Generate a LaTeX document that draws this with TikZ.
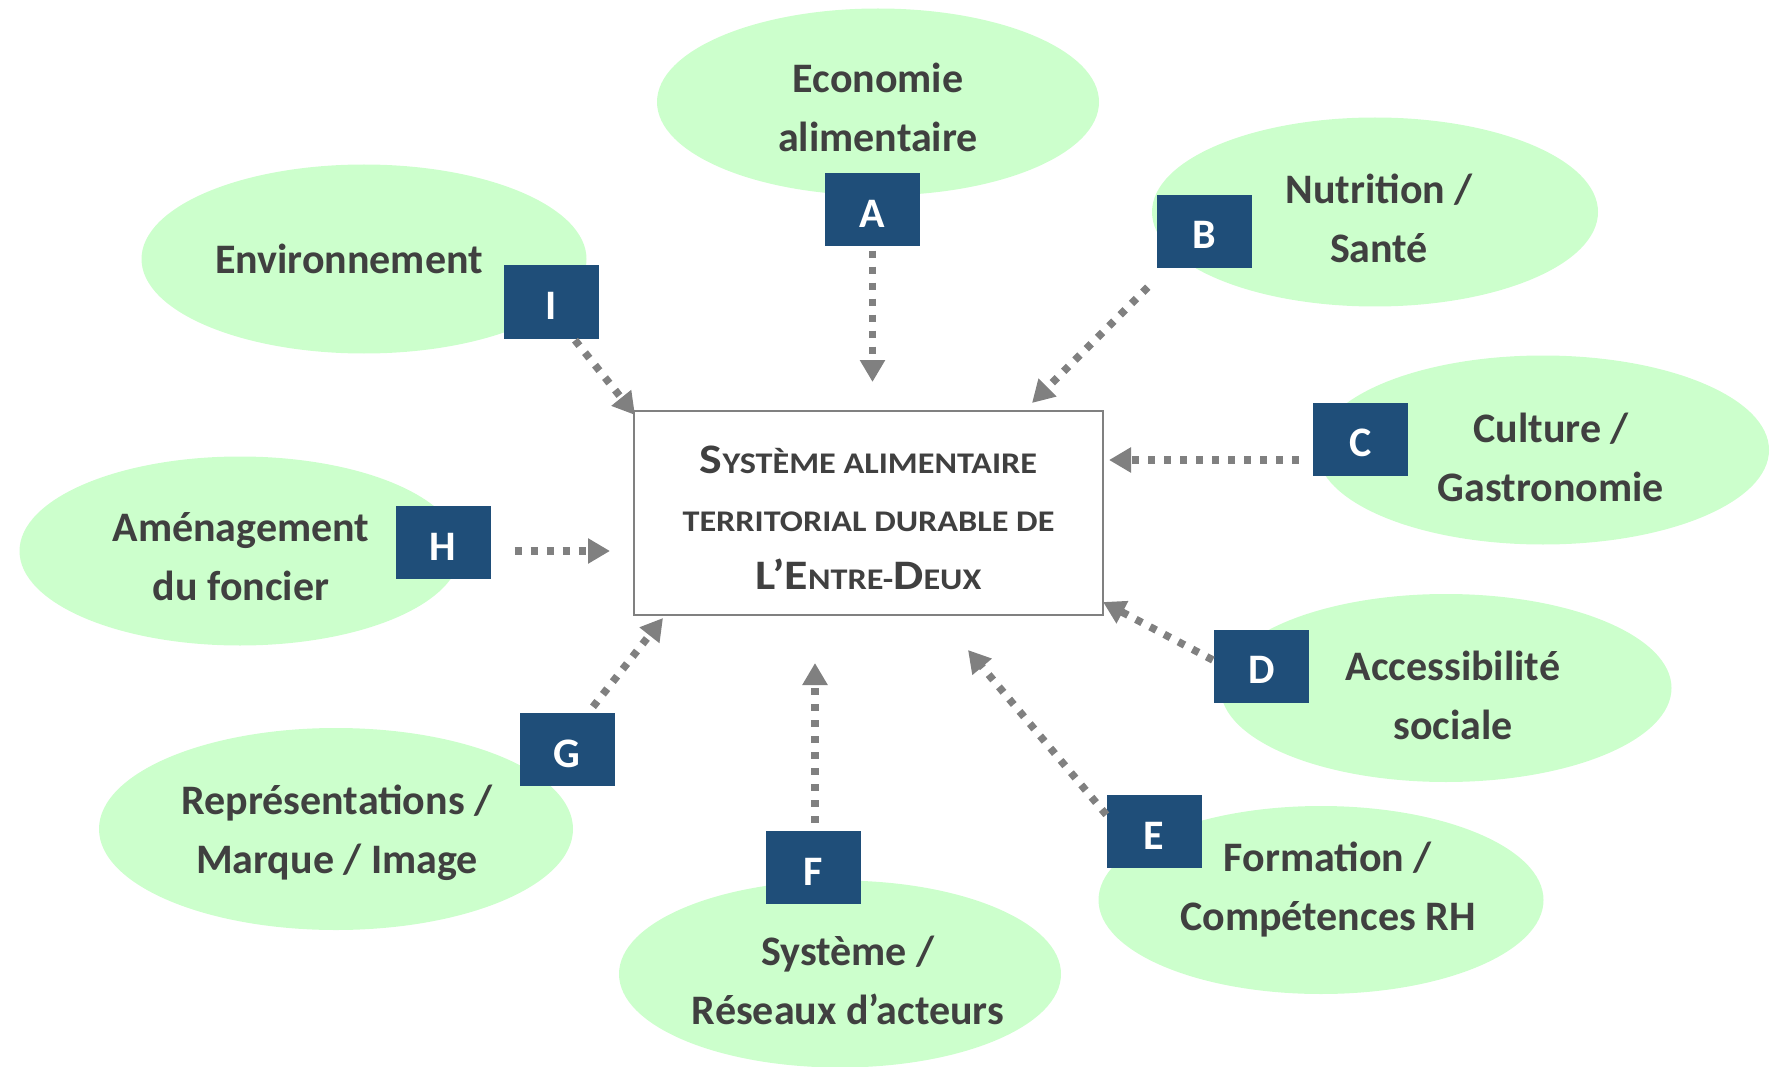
\documentclass[tikz,border=0pt]{standalone}
\usepackage{fontspec}
\setmainfont{Carlito}
\newfontfamily\scfont[FakeStretch=1.14]{Carlito}
\usetikzlibrary{arrows.meta,shapes.geometric}
\definecolor{ellfill}{HTML}{CCFFCC}
\definecolor{lblfill}{HTML}{1F4E79}
\definecolor{txt}{HTML}{404040}
\definecolor{arrgray}{HTML}{808080}
\newcommand{\mycapbig}[1]{{\fontsize{42}{58}\selectfont #1}}
\begin{document}
\begin{tikzpicture}[x=1pt,y=-1pt,
 ell/.style={ellipse, fill=ellfill, inner sep=0pt},
 etext/.style={inner sep=0pt, text=txt, font=\bfseries\fontsize{42}{59}\selectfont, align=center},
 lbl/.style={fill=lblfill, minimum width=95pt, minimum height=73pt, inner sep=0pt, text height=35pt, text depth=0pt, text=white, font=\bfseries\fontsize{42}{48}\selectfont},
 cbox/.style={draw=arrgray, line width=2pt, fill=white, minimum width=469pt, minimum height=204pt, inner sep=0pt},
 ctext/.style={inner sep=0pt, text=txt, align=center, font=\scfont\bfseries\fontsize{30}{58}\selectfont},
 arr/.style={draw=arrgray, line width=7.5pt, dash pattern=on 7pt off 9pt, -{Triangle[width=24pt,length=22pt]}}]
\useasboundingbox (0,0) rectangle (1780,1067);
% ellipses
\node[ell, minimum width=442pt, minimum height=187pt] (eA) at (878,102) {};
\node[ell, minimum width=446pt, minimum height=189pt] (eB) at (1375,212) {};
\node[ell, minimum width=452pt, minimum height=189pt] (eC) at (1543,450) {};
\node[ell, minimum width=451pt, minimum height=188pt] (eD) at (1446,688) {};
\node[ell, minimum width=445pt, minimum height=188pt] (eE) at (1321,900) {};
\node[ell, minimum width=442pt, minimum height=187pt] (eF) at (840,974) {};
\node[ell, minimum width=474pt, minimum height=202pt] (eG) at (336,829) {};
\node[ell, minimum width=441pt, minimum height=189pt] (eH) at (240,551) {};
\node[ell, minimum width=445pt, minimum height=189pt] (eI) at (364,259) {};
% ellipse texts
\node[etext] (xA) at (878,107) {Economie\\alimentaire};
\node[etext] (xB) at (1379,218) {Nutrition /\\Santé};
\node[etext] (xC) at (1551,457) {Culture /\\Gastronomie};
\node[etext] (xD) at (1453,695) {Accessibilité\\sociale};
\node[etext] (xE) at (1328,890) {Formation /\\Compétences RH};
\node[etext] (xF) at (848,980) {Système /\\Réseaux d’acteurs};
\node[etext] (xG) at (337,833) {Représentations /\\Marque / Image};
\node[etext] (xH) at (241,557) {Aménagement\\du foncier};
\node[etext] (xI) at (349,259) {Environnement};
% labels
\node[lbl] (lA) at (872.5,210) {A};
\node[lbl] (lB) at (1204.5,231.5) {B};
\node[lbl] (lC) at (1360.5,439) {C};
\node[lbl] (lD) at (1261.5,666) {D};
\node[lbl] (lE) at (1154,831.5) {E};
\node[lbl] (lF) at (813.5,867.5) {F};
\node[lbl] (lG) at (567,749.5) {G};
\node[lbl] (lH) at (443,542.5) {H};
\node[lbl] (lI) at (551.5,302) {I};
% central box
\node[cbox] (sys) at (868.5,513) {};
\node[ctext] (systext) at (868.5,518) {\mycapbig{S}YSTÈME ALIMENTAIRE\\TERRITORIAL DURABLE DE\\\mycapbig{L’E}NTRE-\mycapbig{D}EUX};
% arrow tips
\coordinate (tA) at (872.5,382);
\coordinate (tB) at (1032,403);
\coordinate (tC) at (1109,460);
\coordinate (tD) at (1103,602);
\coordinate (tE) at (968,650);
\coordinate (tF) at (815,663);
\coordinate (tG) at (663,618);
\coordinate (tH) at (610,551);
\coordinate (tI) at (635,415);
% arrows
\draw[arr] ([yshift=-4pt]lA.south) -- (tA);
\draw[arr] ([xshift=-9pt,yshift=-19pt]lB.south west) -- (tB);
\draw[arr] ([xshift=-14pt,yshift=-21pt]lC.west) -- (tC);
\draw[arr] ([xshift=-1pt,yshift=6pt]lD.west) -- (tD);
\draw[arr] ([yshift=-20pt]lE.north west) -- (tE);
\draw[arr] ([xshift=1.5pt,yshift=8pt]lF.north) -- (tF);
\draw[arr] ([xshift=26pt,yshift=6pt]lG.north) -- (tG);
\draw[arr] ([xshift=24pt,yshift=-8.5pt]lH.east) -- (tH);
\draw[arr] ([xshift=23.5pt,yshift=-1.5pt]lI.south) -- (tI);
\end{tikzpicture}
\end{document}
